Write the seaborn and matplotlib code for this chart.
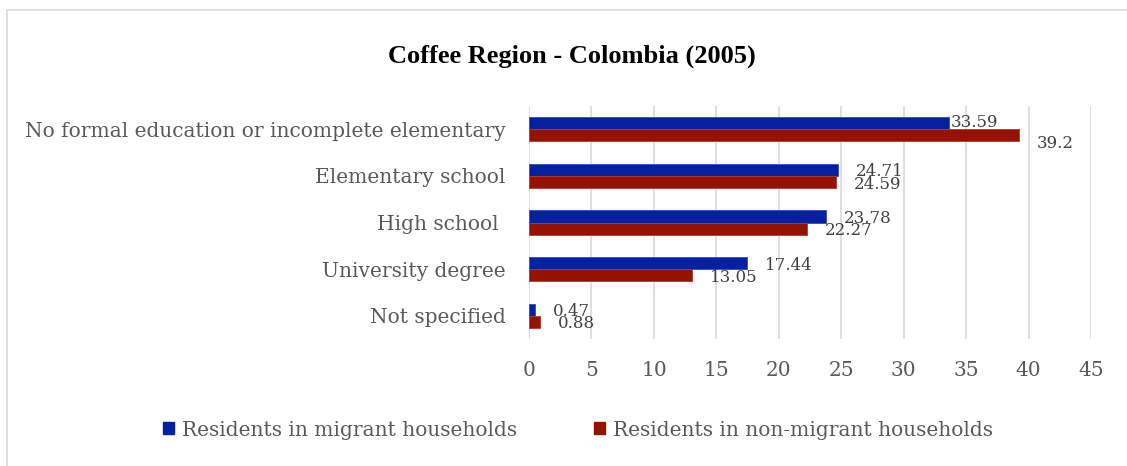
import matplotlib
matplotlib.use("Agg")
import matplotlib.pyplot as plt
from matplotlib.patches import Rectangle
import seaborn as sns
import pandas as pd

# Education level of residents, Coffee Region (2005), percentages
categories = [
    "No formal education or incomplete elementary",
    "Elementary school",
    "High school ",
    "University degree",
    "Not specified",
]
migrant = [33.59, 24.71, 23.78, 17.44, 0.47]
non_migrant = [39.2, 24.59, 22.27, 13.05, 0.88]
series_names = ["Residents in migrant households", "Residents in non-migrant households"]
x_ticks = [0, 5, 10, 15, 20, 25, 30, 35, 40, 45]

df = pd.DataFrame({
    "category": categories * 2,
    "value": migrant + non_migrant,
    "group": [series_names[0]] * len(categories) + [series_names[1]] * len(categories),
})

sns.set_theme(style="white")
plt.rcParams["font.family"] = ["DejaVu Serif"]

BLUE = "#0220A0"
RED = "#941300"
TEXT = "#595959"

fig = plt.figure(figsize=(11.27, 4.66), dpi=100)
ax = fig.add_axes([529 / 1127, 1 - 339 / 466, (1091 - 529) / 1127, (339 - 106) / 466])

sns.barplot(
    data=df, y="category", x="value", hue="group", orient="h",
    palette=[BLUE, RED], saturation=1, width=0.52, ax=ax, legend=False,
    linewidth=0.6,
)
edge_colors = ["#2f4cc8"] * len(categories) + ["#b03a2a"] * len(categories)
for patch, ec in zip(ax.patches, edge_colors):
    patch.set_edgecolor(ec)

ax.set_xlim(0, 45)
ax.set_xticks(x_ticks)
ax.set_xticklabels([str(t) for t in x_ticks])
ax.set_xlabel("")
ax.set_ylabel("")
ax.grid(axis="x", color="#d9d9d9", linewidth=1.2)
ax.set_axisbelow(True)
for s in ax.spines.values():
    s.set_visible(False)
ax.tick_params(axis="x", length=0, pad=16, labelsize=14.5, labelcolor=TEXT)
ax.tick_params(axis="y", length=0, pad=17, labelsize=14.5, labelcolor=TEXT)

# value labels next to each bar end
label_offsets = {
    (0, 0): (1.5, 0.5),
    (1, 0): (13, -6),
}
for si, cont in enumerate(ax.containers):
    vals = migrant if si == 0 else non_migrant
    for ci, (bar, v) in enumerate(zip(cont, vals)):
        dx, dy = label_offsets.get((si, ci), (13, -1.5))
        ax.annotate(
            f"{v:g}", xy=(bar.get_width(), bar.get_y() + bar.get_height() / 2),
            xytext=(dx, dy), textcoords="offset points",
            ha="left", va="center", fontsize=12, color="#404040",
        )

fig.suptitle("Coffee Region - Colombia (2005)", x=572 / 1127, y=1 - 56 / 466,
             va="center", fontsize=19, fontweight="bold",
             family=["Liberation Serif"], color="black")

handles = [Rectangle((0, 0), 1, 1, color=BLUE), Rectangle((0, 0), 1, 1, color=RED)]
fig.legend(handles, series_names, loc="center", bbox_to_anchor=(578 / 1127, 1 - 430 / 466),
           ncol=2, frameon=False, fontsize=14.5, handlelength=0.55, handleheight=0.55,
           handletextpad=0.4, columnspacing=3.8, labelcolor=TEXT)

# chart frame
fig.patches.append(Rectangle((7 / 1127, -0.1), 1.3, 1 - 10 / 466 + 0.1,
                             transform=fig.transFigure, fill=False,
                             edgecolor="#d9d9d9", linewidth=1.2))

fig.savefig("out.png", dpi=100, facecolor="white")
